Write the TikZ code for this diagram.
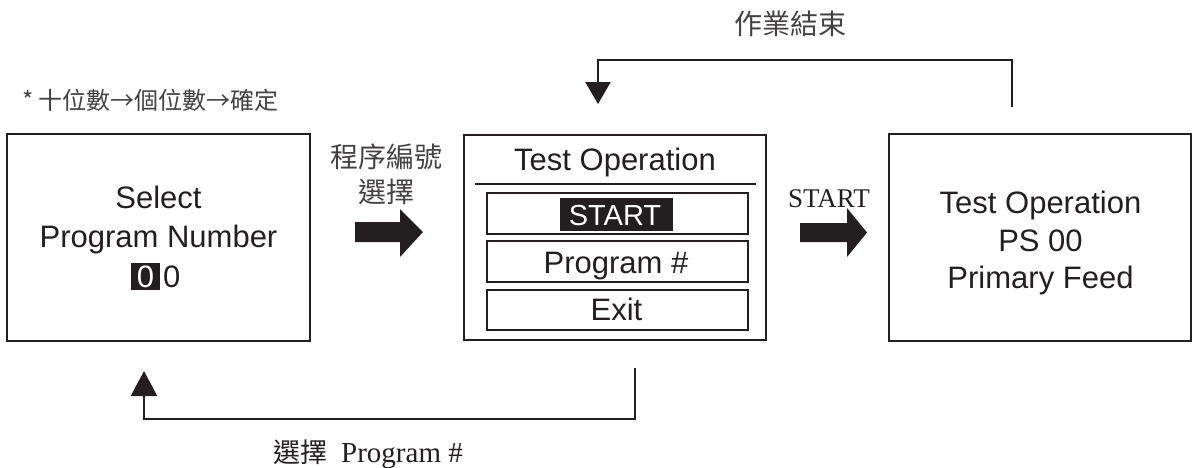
\documentclass[tikz,border=0pt]{standalone}
\usepackage{fontspec}
\setmainfont{Liberation Sans}
\newfontfamily\cjk{Noto Sans CJK TC}
\newfontfamily\serif{Liberation Serif}
\usetikzlibrary{arrows.meta}
\definecolor{ink}{HTML}{231F20}
\tikzset{
  box/.style={draw=ink, line width=2.5pt, inner sep=0pt},
  inbox/.style={draw=ink, line width=1.5pt, inner sep=0pt, minimum width=261pt, minimum height=41pt},
  big/.style={font=\fontsize{31}{38}\selectfont, text=ink, inner sep=0pt},
  cjklab/.style={font=\cjk\fontsize{28}{34}\selectfont, text=ink!85, inner sep=0pt},
  conn/.style={draw=ink, line width=2.5pt},
  blockarrow/.style={fill=ink},
}
\begin{document}
\begin{tikzpicture}[x=1pt,y=-1pt]
\useasboundingbox (0,0) rectangle (1196,467);
% boxes
\node[box, minimum width=303pt, minimum height=207pt] (sel) at (158.5,237.5) {};
\node[box, minimum width=302pt, minimum height=205pt] (menu) at (615,237.5) {};
\node[box, minimum width=302pt, minimum height=207pt] (run) at (1040,237.5) {};
% left box text
\node[big, anchor=base] (s1) at (158.5,208) {Select};
\node[big, anchor=base] (s2) at (158.5,247) {Program Number};
\node[fill=ink, text=white, big, minimum width=29pt, minimum height=27pt] (d1) at (145.5,276.5) {};
\node[big, text=white, anchor=base] (d1t) at (145.5,287) {0};
\node[big, anchor=base west] (d2) at (163,287) {0};
% middle box
\node[big, anchor=base] (t1) at (615,170) {Test Operation};
\draw[draw=ink, line width=2pt] (475,184) -- (756,184);
\node[inbox] (b1) at (617.5,213.5) {};
\node[inbox] (b2) at (617.5,261.5) {};
\node[inbox, minimum height=40pt] (b3) at (617.5,310) {};
\node[fill=ink, minimum width=113pt, minimum height=33pt, inner sep=0pt] (hl) at (616.5,214.5) {};
\node[big, text=white, anchor=base, font=\fontsize{29}{34}\selectfont] (st) at (615,225) {START};
\node[big, anchor=base] (pg) at (616,273) {Program \#};
\node[big, anchor=base] (ex) at (616.5,320) {Exit};
% right box text
\node[big, anchor=base] (r1) at (1040.5,213) {Test Operation};
\node[big, anchor=base] (r2) at (1040.5,251) {PS 00};
\node[big, anchor=base] (r3) at (1040.5,288) {Primary Feed};
% block arrows
\fill[blockarrow] (355,222) -- (400,222) -- (400,209) -- (423,232) -- (400,257) -- (400,242) -- (355,242) -- cycle;
\fill[blockarrow] (800,223) -- (847,223) -- (847,208) -- (867,232.5) -- (847,257) -- (847,242) -- (800,242) -- cycle;
% labels
\node[cjklab] (l1) at (386,157) {程序編號};
\node[cjklab] (l2) at (386,192) {選擇};
\node[anchor=base, text=ink, inner sep=0pt, font=\serif\fontsize{27}{32}\selectfont] (l3) at (829,207) {START};
\node[cjklab] (l4) at (790,24) {作業結束};
\node[anchor=west, inner sep=0pt, text=ink!85, font=\cjk\fontsize{24}{28}\selectfont] (note) at (22,100) {* 十位數→個位數→確定};
\node[anchor=base west, inner sep=0pt, text=ink] (l5) at (273,462) {{\cjk\fontsize{27}{32}\selectfont 選擇}\hspace{14pt}{\serif\fontsize{29}{34}\selectfont Program \#}};
% connectors
\coordinate (a1) at (1012,107);
\coordinate (a2) at (598,104);
\draw[conn, -{Triangle[width=25pt,length=22pt]}] (a1) -- (1012,60) -| (a2);
\coordinate (c1) at (635,368);
\coordinate (c2) at (144,371);
\draw[conn, -{Triangle[width=26pt,length=25pt]}] (c1) -- (635,419) -| (c2);
\end{tikzpicture}
\end{document}
